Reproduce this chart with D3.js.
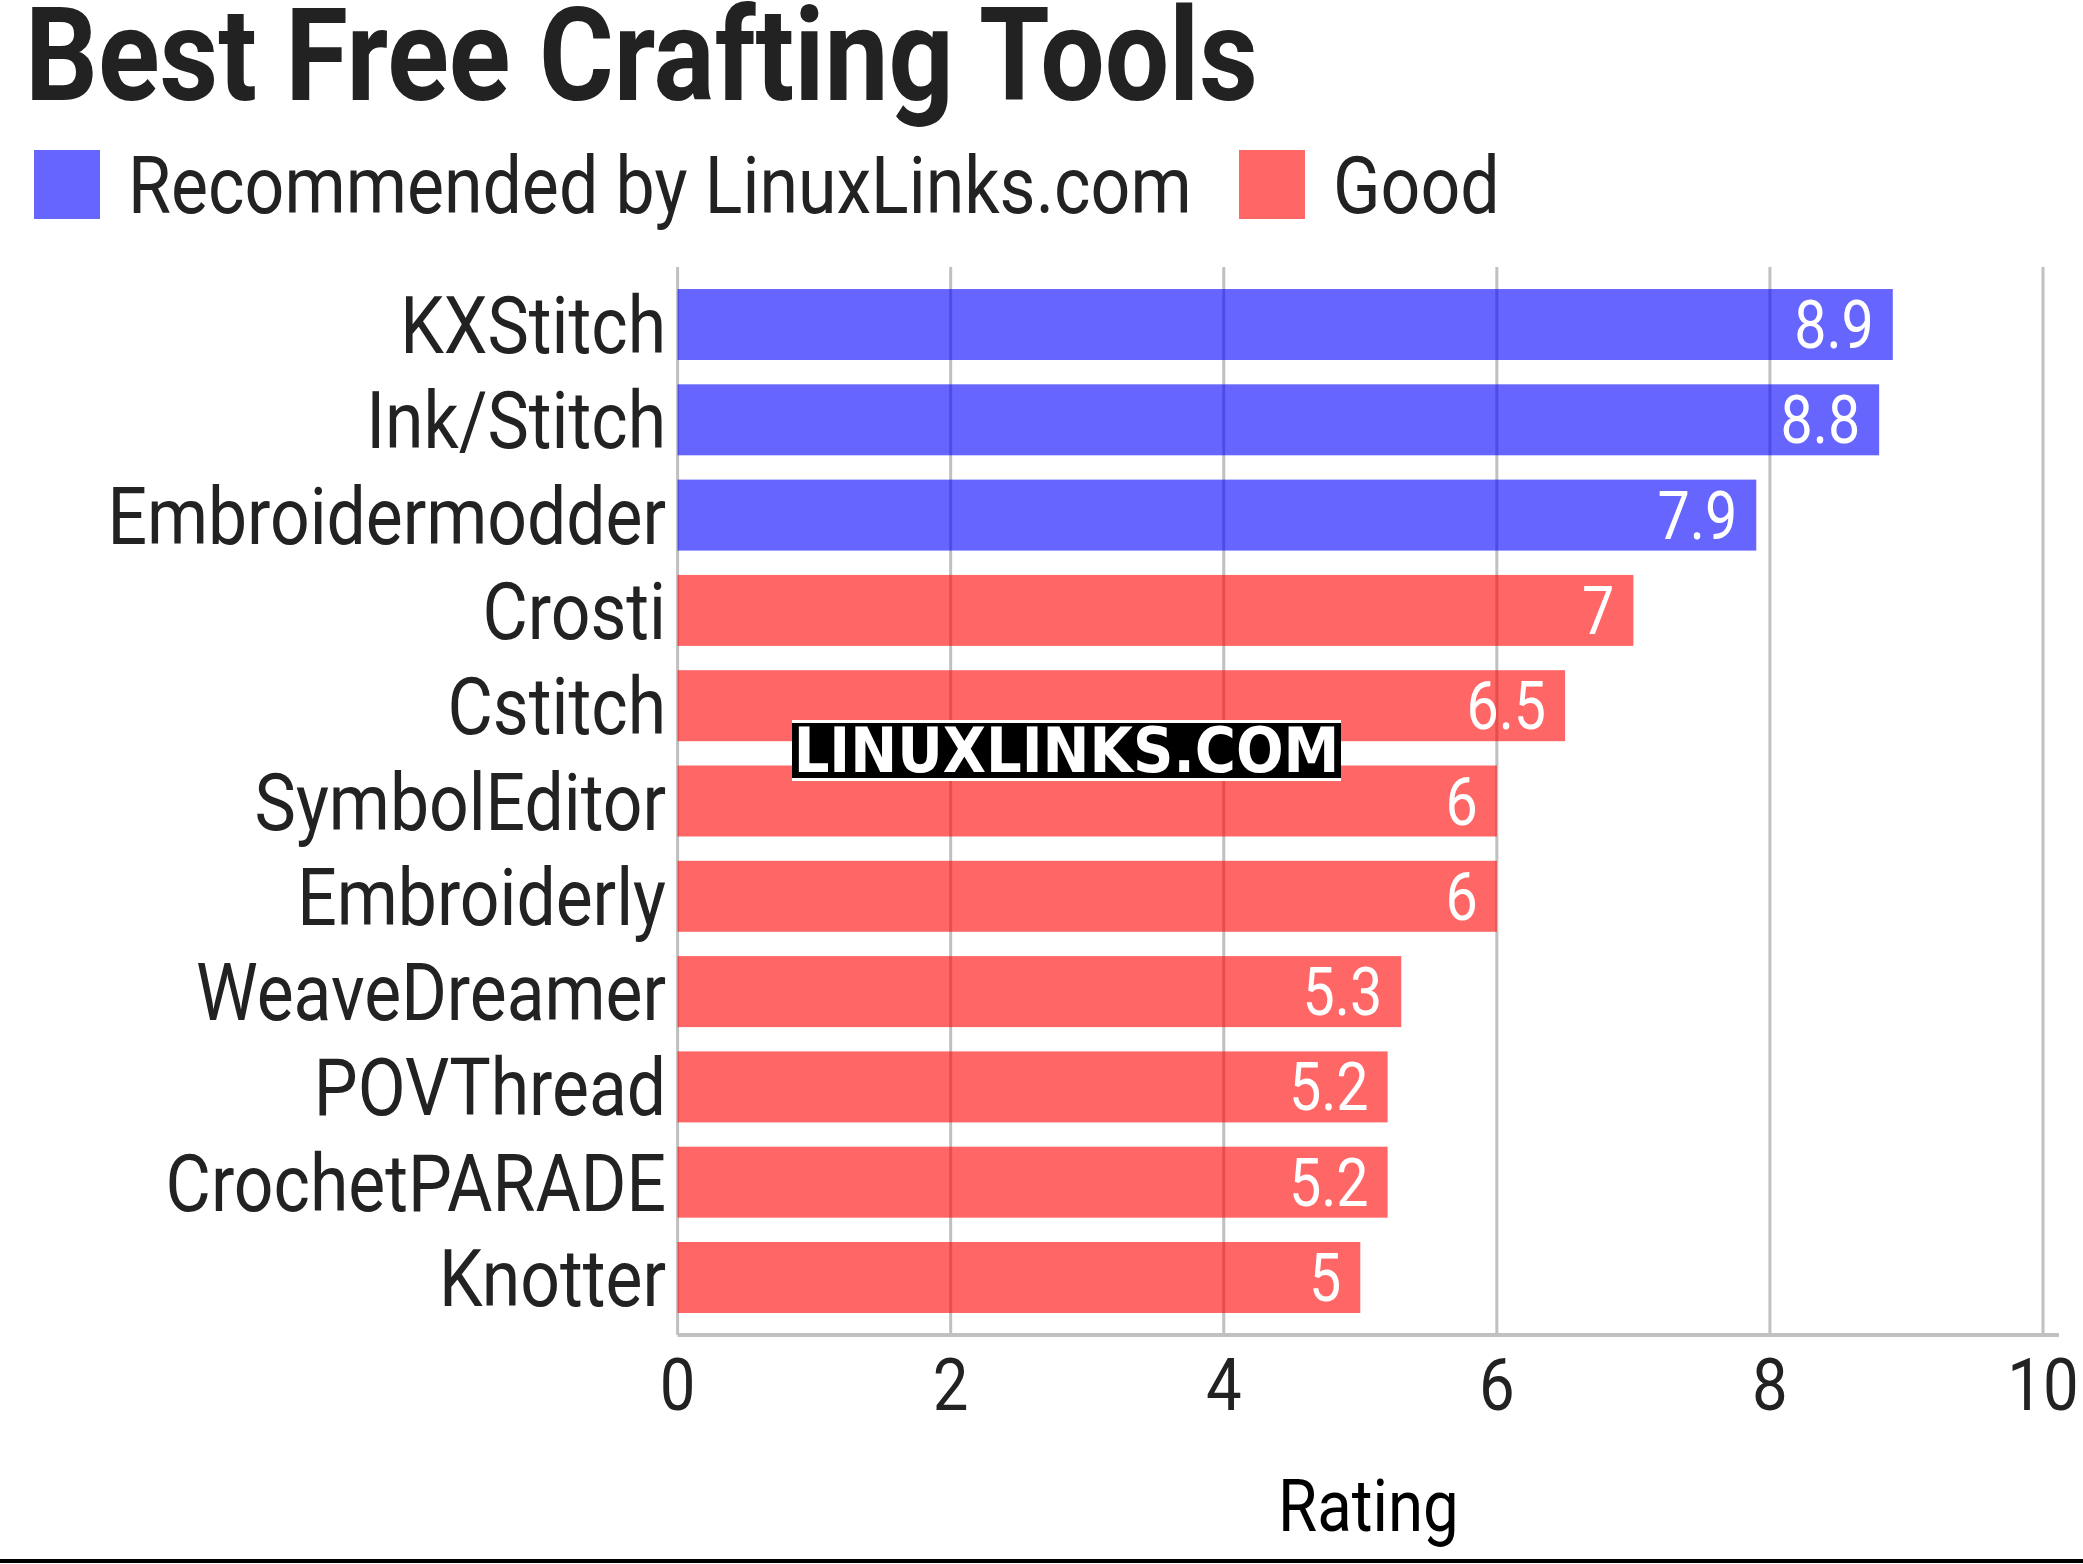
<!DOCTYPE html>
<html>
<head>
<meta charset="utf-8">
<script src="https://cdn.jsdelivr.net/npm/d3@7"></script>
<style>
  html, body { margin: 0; padding: 0; background: #fff; }
  svg { display: block; }
  text { font-family: Roboto, "Noto Sans", sans-serif; }
</style>
</head>
<body>
<script>
const title = "Best Free Crafting Tools";
const categories = ["KXStitch", "Ink/Stitch", "Embroidermodder", "Crosti", "Cstitch", "SymbolEditor", "Embroiderly", "WeaveDreamer", "POVThread", "CrochetPARADE", "Knotter"];
const values = [8.9, 8.8, 7.9, 7, 6.5, 6, 6, 5.3, 5.2, 5.2, 5];
const groups = ["Recommended by LinuxLinks.com", "Recommended by LinuxLinks.com", "Recommended by LinuxLinks.com", "Good", "Good", "Good", "Good", "Good", "Good", "Good", "Good"];
const seriesNames = ["Recommended by LinuxLinks.com", "Good"];
const seriesColors = ["#0000ff", "#ff0000"];
const xTicks = [0, 2, 4, 6, 8, 10];
const xLabel = "Rating";
const watermark = "LINUXLINKS.COM";

const W = 2083, H = 1564;
const COND = 0.87;           // emulate condensed face
const textColor = "#222222";

const svg = d3.select("body").append("svg").attr("width", W).attr("height", H);

const x = d3.scaleLinear().domain([0, 10]).range([677.6, 2043]);
const y = d3.scaleBand().domain(categories).range([267, 1335]).paddingInner(0.255).paddingOuter(0.231);
const color = d3.scaleOrdinal().domain(seriesNames).range(seriesColors);

function ctext(g, tx, ty, str, opts) {
  const t = g.append("g").attr("transform", `translate(${tx},${ty}) scale(${opts.sx ?? COND},1)`)
    .append("text")
    .attr("text-anchor", opts.anchor || "start")
    .attr("font-size", opts.size)
    .attr("font-weight", opts.weight || 400)
    .attr("fill", opts.fill || textColor)
    .text(str);
  if (opts.family) t.style("font-family", opts.family);
  return t;
}

// Title
ctext(svg, 25, 100, title, { size: 130, weight: 700, sx: 0.8785 });

// Legend
const legendX = [34, 1239];
seriesNames.forEach((s, i) => {
  svg.append("rect").attr("x", legendX[i]).attr("y", 150).attr("width", 66).attr("height", 69)
    .attr("fill", color(s)).attr("fill-opacity", 0.6);
  ctext(svg, legendX[i] + 94, 213, s, { size: 80, sx: 0.873 });
});

// Grid lines
const gridG = svg.append("g");
gridG.selectAll("line").data(xTicks).join("line")
  .attr("x1", d => x(d)).attr("x2", d => x(d))
  .attr("y1", 267).attr("y2", 1335)
  .attr("stroke", "#c0c0c0").attr("stroke-width", 3);

// Bars
svg.append("g").selectAll("rect").data(categories).join("rect")
  .attr("x", x(0))
  .attr("y", d => y(d))
  .attr("width", (d, i) => x(values[i]) - x(0))
  .attr("height", y.bandwidth())
  .attr("fill", (d, i) => color(groups[i]))
  .attr("fill-opacity", 0.6);

// Axis line
svg.append("line").attr("x1", x(0)).attr("x2", 2059).attr("y1", 1335).attr("y2", 1335)
  .attr("stroke", "#c0c0c0").attr("stroke-width", 4);

// Value labels
const valG = svg.append("g");
categories.forEach((c, i) => {
  ctext(valG, x(values[i]) - 19, y(c) + y.bandwidth() / 2 + 23.5, String(values[i]),
    { size: 66, anchor: "end", fill: "#ffffff" });
});

// Category labels
const catG = svg.append("g");
categories.forEach((c) => {
  ctext(catG, 666, y(c) + y.bandwidth() / 2 + 28.5, c, { size: 80, anchor: "end" });
});

// X tick labels
const tickG = svg.append("g");
xTicks.forEach(t => {
  ctext(tickG, x(t), 1410, String(t), { size: 73, anchor: "middle" });
});

// X axis label
ctext(svg, (x(0) + 2059) / 2, 1530.7, xLabel, { size: 73, anchor: "middle", fill: "#000000" });

// Watermark
svg.append("rect").attr("x", 792).attr("y", 720).attr("width", 549).attr("height", 61).attr("fill", "#ffffff");
svg.append("rect").attr("x", 792).attr("y", 723).attr("width", 549).attr("height", 55).attr("fill", "#000000");
ctext(svg, 1066.5, 771.7, watermark, { size: 62, weight: 700, anchor: "middle", fill: "#ffffff", sx: 0.905, family: "'DejaVu Sans', sans-serif" });

// Bottom rule
svg.append("rect").attr("x", 0).attr("y", 1559).attr("width", W).attr("height", 4).attr("fill", "#000000");
</script>
</body>
</html>
